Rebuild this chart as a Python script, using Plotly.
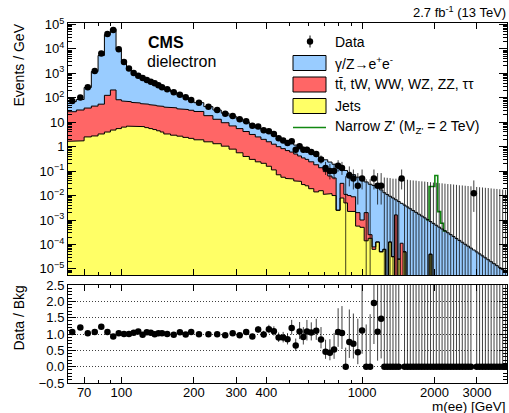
import numpy as np
import plotly.graph_objects as go

# ---------------- data ----------------
bin_edges = [60, 65, 70, 75, 80, 85, 90, 95, 100, 105, 110, 115, 120, 125, 130, 135, 140, 145, 150,
             160, 170, 180, 190, 200,
             220, 240, 260, 280, 300, 320, 340, 360, 380, 400, 420, 440, 460, 480, 500, 520, 540, 560, 580, 600,
             630, 660, 690, 720, 750, 780, 810, 840, 870, 900,
             940, 980, 1020, 1060, 1100, 1140, 1180, 1220,
             1254, 1289, 1325, 1363, 1401, 1440, 1480, 1522, 1564, 1608, 1653, 1699, 1747, 1796, 1846,
             1898, 1951, 2006, 2062, 2120, 2179, 2240, 2303, 2367, 2433, 2501, 2572, 2644, 2718, 2794,
             2872, 2952, 3035, 3120, 3207, 3297, 3389, 3484, 3582, 3682, 3785, 3891, 4000]

# Events / GeV per component
dy_ee = [43.1, 53.5, 225, 1143, 5315, 38330, 64360, 9467, 2810, 1516, 935, 680, 603, 458, 384, 349, 269, 218,
         182, 135, 90.4, 74.1, 45.0,
         35.6, 25.0, 18.4, 13.9, 10.7, 8.31, 6.06, 4.60, 3.43, 2.72, 2.17, 1.78, 1.47, 1.19, 0.979, 0.787, 0.660,
         0.558, 0.477, 0.396,
         0.333, 0.272, 0.223, 0.195, 0.172, 0.139, 0.154, 0.0974, 0.0954, 0.0787,
         0.0627, 0.0546, 0.0441, 0.0341, 0.0288, 0.0256, 0.0233, 0.0170,
         0.01303, 0.01109, 0.009271, 0.007930, 0.005108, 0.005664, 0.004696, 0.004014, 0.003428, 0.002891,
         0.002438, 0.002056, 0.001730, 0.001455, 0.001225, 0.001030, 0.000825, 0.000726, 0.000610, 0.000512,
         0.000429, 0.000359, 0.000301, 0.000252, 0.000210, 0.000176, 0.000147, 0.000123, 0.000102, 0.0000853,
         0.0000711, 0.0000593, 0.0000494, 0.0000411, 0.0000342, 0.0000284, 0.0000237, 0.0000197, 0.0000163,
         0.0000136, 0.0000112, 0.00000933, 0.00000774]

ttbar_others = [25.3, 29.9, 35.5, 43.0, 51.6, 122, 204, 77.7, 67.8, 62.3, 57.5, 54.7, 50.9, 48.9, 47.0, 44.0, 42.3,
                40.7, 38.4, 35.9, 32.8, 30.7, 28.7,
                25.6, 17.0, 11.9, 8.50, 6.28, 4.93, 3.77, 2.86, 2.27, 1.79, 1.43, 1.15, 0.929, 0.776, 0.642, 0.555,
                0.461, 0.379, 0.319, 0.277,
                0.221, 0.168, 0.122, 0.0843, 0.0511, 0.0425, 0, 0.0237, 0.0062, 0.00776,
                0.00667, 0.00144, 0.000499, 0.00186, 0.0000730, 0.0000163, 0, 0,
                0, 0, 0, 0, 0.00162, 0, 0.000112, 0, 0, 0,
                0, 0, 0, 0, 0, 0, 0, 0, 0, 0,
                0, 0, 0, 0, 0, 0, 0, 0, 0, 0,
                0, 0, 0, 0, 0, 0, 0, 0, 0, 0,
                0, 0, 0]

jets = [1.66, 1.74, 2.51, 2.75, 3.31, 3.98, 4.79, 5.50, 6.31, 6.92, 7.08, 6.92, 6.61, 6.03, 5.50, 5.01, 4.47, 3.98,
        3.31, 2.95, 2.69, 2.40, 2.19,
        1.91, 1.58, 1.32, 1.05, 0.794, 0.562, 0.398, 0.302, 0.240, 0.209, 0.158, 0.112, 0.0708, 0.0562, 0.0501,
        0.0479, 0.0398, 0.0380, 0.0282, 0.0251,
        0.0191, 0.0141, 0.0158, 0.0112, 0.0120, 0.0100, 0.00251, 0.00794, 0.0050, 0.00224,
        0.00224, 0.000562, 0.000501, 0.000141, 0.000178, 0.0000631, 0.000126, 0.0000501,
        0.0000631, 0, 0.000126, 0.0000316, 0, 0.0000251, 0, 0.0000501, 0, 0,
        0, 0, 0, 0, 0, 0, 0.0000398, 0, 0, 0,
        0, 0, 0, 0, 0, 0, 0, 0, 0, 0,
        0, 0, 0, 0, 0, 0, 0, 0, 0, 0,
        0, 0, 0]

zprime_2tev = [0] * 77 + [0.0226, 0.0227, 0.0655, 0.00168, 0.00031] + [0] * 22

data_counts = [371, 511, 1342, 6302, 32757, 203840, 297020, 48705, 14420, 7925, 5200, 4001, 3239, 2693, 2272,
               1970, 1612, 1341, 2240, 1705, 1323, 1059, 805,
               1249, 864, 626, 450, 363, 265, 217, 143, 135, 93, 86, 66, 44, 36, 28, 33, 15, 21, 15, 15,
               18, 15, 9, 4, 3, 3, 5, 4, 0, 2,
               2, 1, 2, 0, 0, 2, 1, 1,
               0, 0, 0, 0, 0, 0, 2, 0, 0, 0,
               0, 0, 0, 0, 0, 0, 0, 0, 0, 0,
               0, 0, 0, 0, 0, 0, 0, 0, 0, 0,
               0, 1, 0, 0, 0, 0, 0, 0, 0, 0,
               0, 0, 0]

x_tickvals = [70, 100, 200, 300, 400, 1000, 2000, 3000]
x_ticktext = ["70", "100", "200", "300", "400", "1000", "2000", "3000"]
x_minor = [80, 90, 500, 600, 700, 800, 900]
y_tickvals = [1e-5, 1e-4, 1e-3, 1e-2, 1e-1, 1, 10, 1e2, 1e3, 1e4, 1e5]
y_ticktext = ["10<sup>\u22125</sup>", "10<sup>\u22124</sup>", "10<sup>\u22123</sup>", "10<sup>\u22122</sup>",
              "10<sup>\u22121</sup>", "1", "10", "10<sup>2</sup>", "10<sup>3</sup>", "10<sup>4</sup>",
              "10<sup>5</sup>"]
ratio_tickvals = [-0.5, 0.0, 0.5, 1.0, 1.5, 2.0, 2.5]
ratio_ticktext = ["\u22120.5", "0.0", "0.5", "1.0", "1.5", "2.0", "2.5"]

# ---------------- derived ----------------
edges = np.array(bin_edges, float)
lo_e, hi_e = edges[:-1], edges[1:]
width = hi_e - lo_e
center = 0.5 * (lo_e + hi_e)
dy = np.array(dy_ee, float)
tt = np.array(ttbar_others, float)
jj = np.array(jets, float)
sig = np.array(zprime_2tev, float)
cnt = np.array(data_counts, float)
n = len(dy)
assert len(tt) == n and len(jj) == n and len(sig) == n and len(cnt) == n and len(edges) == n + 1

top_yel = jj
top_red = jj + tt
top_blu = jj + tt + dy
bkg = top_blu
FLOOR = 1e-9


def pois_hi(k):
    return k + np.sqrt(k + 0.75) + 1.0


def pois_lo(k):
    out = np.zeros_like(k)
    m = k > 0
    out[m] = k[m] * (1 - 1 / (9 * k[m]) - 1 / (3 * np.sqrt(k[m]))) ** 3
    return out


dens = cnt / width
dens_hi = pois_hi(cnt) / width
dens_lo = pois_lo(cnt) / width


def step(vals, i0=0, i1=None):
    if i1 is None:
        i1 = len(vals)
    xs, ys = [], []
    for i in range(i0, i1):
        v = vals[i] if vals[i] > 0 else FLOOR
        xs += [lo_e[i], hi_e[i]]
        ys += [v, v]
    return xs, ys


def poly(vals):
    xs, ys = step(vals)
    return xs + [hi_e[-1], lo_e[0]], ys + [FLOOR, FLOOR]


C_BLUE = "#99ccff"
C_RED = "#ff6666"
C_YEL = "#ffff66"
C_GREEN = "#118811"

fig = go.Figure()
for vals, col in [(top_blu, C_BLUE), (top_red, C_RED), (top_yel, C_YEL)]:
    xs, ys = poly(vals)
    fig.add_trace(go.Scatter(x=xs, y=ys, mode="lines", fill="toself", fillcolor=col,
                             line=dict(width=0), hoverinfo="skip", xaxis="x", yaxis="y"))

# signal (stacked on background), only where non-zero
nz = np.nonzero(sig)[0]
i0, i1 = nz[0] - 1, nz[-1] + 2
xs, ys = step(top_blu + sig, i0, i1)
fig.add_trace(go.Scatter(x=xs, y=ys, mode="lines", line=dict(color=C_GREEN, width=1.6),
                         hoverinfo="skip", xaxis="x", yaxis="y"))

for vals in [top_blu, top_red, top_yel]:
    xs, ys = step(vals)
    fig.add_trace(go.Scatter(x=xs, y=ys, mode="lines", line=dict(color="black", width=1),
                             hoverinfo="skip", xaxis="x", yaxis="y"))

# data error bars (main)
ex, ey = [], []
for i in range(n):
    lo = dens_lo[i] if dens_lo[i] > 0 else FLOOR
    ex += [center[i], center[i], None]
    ey += [lo, dens_hi[i], None]
fig.add_trace(go.Scatter(x=ex, y=ey, mode="lines", line=dict(color="rgba(0,0,0,0.75)", width=1),
                         hoverinfo="skip", xaxis="x", yaxis="y"))
m = cnt > 0
fig.add_trace(go.Scatter(x=center[m], y=dens[m], mode="markers",
                         marker=dict(color="black", size=6.5), hoverinfo="skip", xaxis="x", yaxis="y"))

# ratio panel
ratio = dens / bkg
r_lo = dens_lo / bkg
r_hi = dens_hi / bkg
rx, ry = [], []
for i in range(n):
    rx += [center[i], center[i], None]
    ry += [r_lo[i], r_hi[i], None]
fig.add_trace(go.Scatter(x=rx, y=ry, mode="lines", line=dict(color="rgba(0,0,0,0.75)", width=1),
                         hoverinfo="skip", xaxis="x2", yaxis="y2"))
fig.add_trace(go.Scatter(x=center, y=ratio, mode="markers", marker=dict(color="black", size=6.5),
                         hoverinfo="skip", xaxis="x2", yaxis="y2"))

# ---------------- layout ----------------
L, R, T, B = 68, 2, 23, 30
W, H = 509, 413
PW, PH = W - L - R, H - T - B


def PX(px):
    return (px - L) / PW


def PY(py):
    return (H - B - py) / PH


FONT = "Liberation Sans, Arial, Helvetica, sans-serif"
y_minor = [k * 10.0 ** e for e in range(-6, 6) for k in range(2, 10)]
axis_common = dict(showline=True, linecolor="black", linewidth=1, mirror="allticks", ticks="inside",
                   tickcolor="black", zeroline=False, showgrid=False)

fig.update_layout(
    width=W, height=H, margin=dict(l=L, r=R, t=T, b=B, pad=0),
    paper_bgcolor="white", plot_bgcolor="white", showlegend=False,
    font=dict(family=FONT, size=13, color="black"),
    xaxis=dict(type="log", range=[np.log10(60), np.log10(4000)], domain=[0, 1], anchor="y",
               showticklabels=False, tickvals=x_tickvals, ticklen=6,
               minor=dict(ticks="inside", ticklen=3, tickvals=x_minor, tickcolor="black"), **axis_common),
    yaxis=dict(type="log", range=[-5.25, 5.06], domain=[PY(275), 1], anchor="x",
               tickvals=y_tickvals, ticktext=y_ticktext, ticklen=8,
               minor=dict(ticks="inside", ticklen=4, tickvals=y_minor, tickcolor="black"), **axis_common),
    xaxis2=dict(type="log", range=[np.log10(60), np.log10(4000)], domain=[0, 1], anchor="y2", matches="x",
                tickvals=x_tickvals, ticktext=x_ticktext, ticklen=6, ticklabelstandoff=-3,
                minor=dict(ticks="inside", ticklen=3, tickvals=x_minor, tickcolor="black"), **axis_common),
    yaxis2=dict(range=[-0.5, 2.5], domain=[0, PY(285)], anchor="x2",
                tickvals=ratio_tickvals, ticktext=ratio_ticktext, ticklen=8,
                minor=dict(ticks="inside", ticklen=4, dtick=0.1, tick0=-0.5, tickcolor="black"),
                showline=True, linecolor="black", linewidth=1, mirror="allticks", ticks="inside",
                tickcolor="black", zeroline=False,
                showgrid=True, gridcolor="rgba(0,0,0,0.75)", griddash="1px,2px", gridwidth=1),
)

ann = []


def text(px, py, s, size, xa="left", ya="middle", angle=0):
    ann.append(dict(x=PX(px), y=PY(py), xref="paper", yref="paper", text=s, showarrow=False,
                    xanchor=xa, yanchor=ya, textangle=angle, font=dict(family=FONT, size=size, color="black")))


text(508, 12, "2.7 fb<sup>-1</sup> (13 TeV)", 13, xa="right")
text(146, 42, "<b>CMS</b>", 16)
text(145, 62, "dielectron", 16)
text(18, 22, "Events / GeV", 14, xa="center", ya="top", angle=-90)
text(18, 284, "Data / Bkg", 14, xa="center", ya="top", angle=-90)
text(508, 406.5, "m(ee) [GeV]", 13.5, xa="right")

rows = [41.5, 63, 84.5, 106, 127.5]
labels = ["Data", "\u03b3/Z\u2192e<sup>+</sup>e<sup>-</sup>",
          "tt\u0304, tW, WW, WZ, ZZ, \u03c4\u03c4", "Jets", "Narrow Z' (M<sub>Z'</sub> = 2 TeV)"]
for r, lab in zip(rows, labels):
    text(333, r, lab, 14)

shapes = []
# data marker
shapes.append(dict(type="line", xref="paper", yref="paper", x0=PX(310), x1=PX(310), y0=PY(rows[0] - 6),
                   y1=PY(rows[0] + 6), line=dict(color="black", width=1)))
shapes.append(dict(type="circle", xref="paper", yref="paper", x0=PX(310 - 3.2), x1=PX(310 + 3.2),
                   y0=PY(rows[0] + 3.2), y1=PY(rows[0] - 3.2), fillcolor="black", line=dict(width=0)))
for r, col in zip(rows[1:4], [C_BLUE, C_RED, C_YEL]):
    shapes.append(dict(type="rect", xref="paper", yref="paper", x0=PX(293), x1=PX(326),
                       y0=PY(r + 7.5), y1=PY(r - 7.5), fillcolor=col, line=dict(color="black", width=1)))
shapes.append(dict(type="line", xref="paper", yref="paper", x0=PX(293), x1=PX(326), y0=PY(rows[4]),
                   y1=PY(rows[4]), line=dict(color=C_GREEN, width=1.6)))

fig.update_layout(annotations=ann, shapes=shapes)
fig.write_html("out.html")
